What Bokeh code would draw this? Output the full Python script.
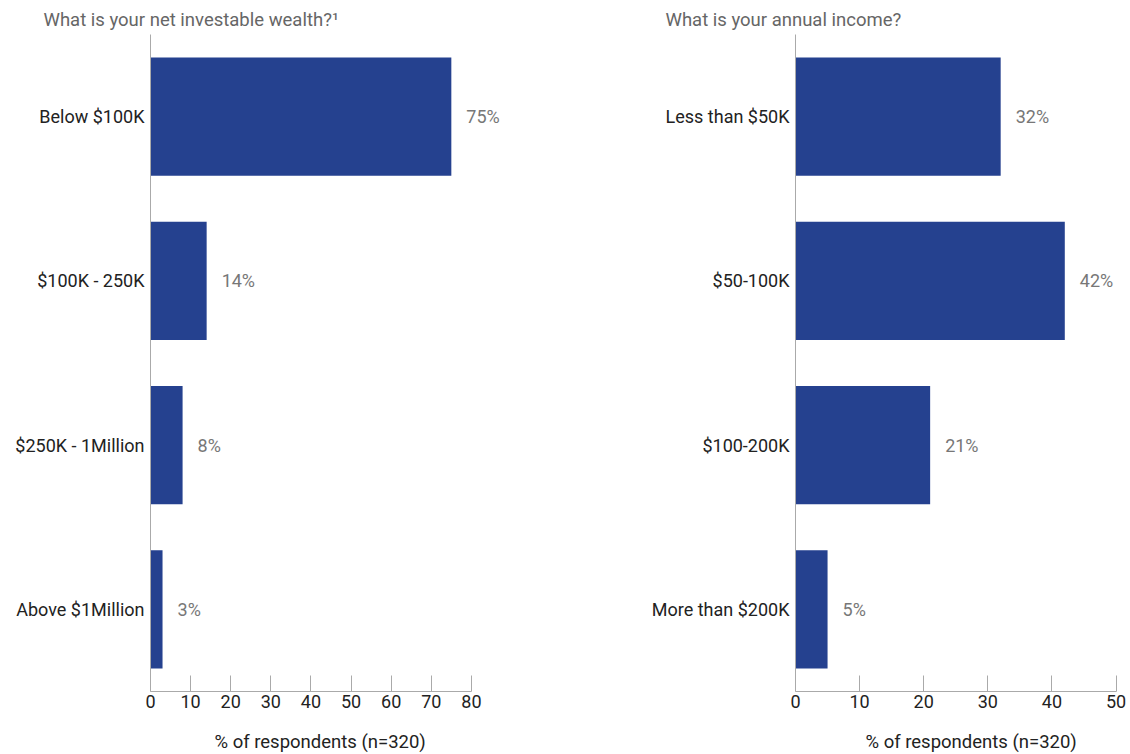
from bokeh.plotting import figure
from bokeh.models import Range1d, FactorRange, FixedTicker, Title, ColumnDataSource, LabelSet
from bokeh.core.properties import value
from bokeh.layouts import row
from bokeh.embed import file_html
from bokeh.resources import INLINE

wealth_cats = ["Below $100K", "$100K - 250K", "$250K - 1Million", "Above $1Million"]
wealth_vals = [75, 14, 8, 3]
income_cats = ["Less than $50K", "$50-100K", "$100-200K", "More than $200K"]
income_vals = [32, 42, 21, 5]
wealth_ticks = [0, 10, 20, 30, 40, 50, 60, 70, 80]
income_ticks = [0, 10, 20, 30, 40, 50]
x_label = "% of respondents (n=320)"
wealth_title = "What is your net investable wealth?\u00b9"
income_title = "What is your annual income?"

FONT = "Roboto"
FS = "18px"
BAR = "#25418f"


def make(cats, vals, ticks, view_max, title, width, border_left, border_right,
         title_offset, xlabel_offset):
    p = figure(
        width=width, height=754,
        y_range=FactorRange(*list(reversed(cats)), range_padding=0),
        x_range=Range1d(ticks[0], view_max),
        output_backend="svg", toolbar_location=None,
        min_border_left=border_left, min_border_right=border_right,
        min_border_top=34, min_border_bottom=63,
    )
    p.add_layout(Title(text=title, align="left", offset=title_offset,
                       text_font=FONT, text_font_size="18.5px",
                       text_font_style="normal", text_color="#666666",
                       standoff=8), "above")
    p.add_layout(Title(text=x_label, align="left", offset=xlabel_offset,
                       text_font=FONT, text_font_size="18.5px",
                       text_font_style="normal", text_color="#222222",
                       standoff=4), "below")
    src = ColumnDataSource(dict(cat=cats, val=vals, lab=[f"{v}%" for v in vals]))
    p.hbar(y="cat", right="val", left=0, height=0.72, source=src,
           fill_color=BAR, line_color=None)
    p.add_layout(LabelSet(x="val", y="cat", text="lab", source=src, x_offset=15,
                          text_baseline="middle", text_align="left",
                          text_font_size=FS, text_color="#777777",
                          text_font=value(FONT)))
    p.xgrid.grid_line_color = None
    p.ygrid.grid_line_color = None
    p.outline_line_color = None
    p.background_fill_color = "white"
    p.border_fill_color = "white"

    xa = p.xaxis[0]
    xa.ticker = FixedTicker(ticks=ticks)
    xa.bounds = (ticks[0], ticks[-1])
    xa.minor_tick_line_color = None
    xa.major_tick_in = 16
    xa.major_tick_out = 0
    xa.major_tick_line_color = "#aaaaaa"
    xa.axis_line_color = "#aaaaaa"
    xa.major_label_text_font = FONT
    xa.major_label_text_font_size = FS
    xa.major_label_text_color = "#222222"
    xa.major_label_standoff = 3
    # invisible spacer label to push the title row down
    xa.axis_label = " "
    xa.axis_label_text_font_size = "1px"
    xa.axis_label_standoff = 12

    ya = p.yaxis[0]
    ya.major_tick_line_color = None
    ya.minor_tick_line_color = None
    ya.axis_line_color = "#aaaaaa"
    ya.major_label_text_font = FONT
    ya.major_label_text_font_size = FS
    ya.major_label_text_color = "#222222"
    ya.major_label_standoff = 0
    return p


# left: frame 150..511 for 0..90 ; right: frame 795..1122 for 0..51
left = make(wealth_cats, wealth_vals, wealth_ticks, 90, wealth_title,
            511, 150, 0, -107, 64)
right = make(income_cats, income_vals, income_ticks, 51, income_title,
             619, 284, 8, -130, 70)

layout = row(left, right)
open("out.html", "w").write(file_html(layout, INLINE))
